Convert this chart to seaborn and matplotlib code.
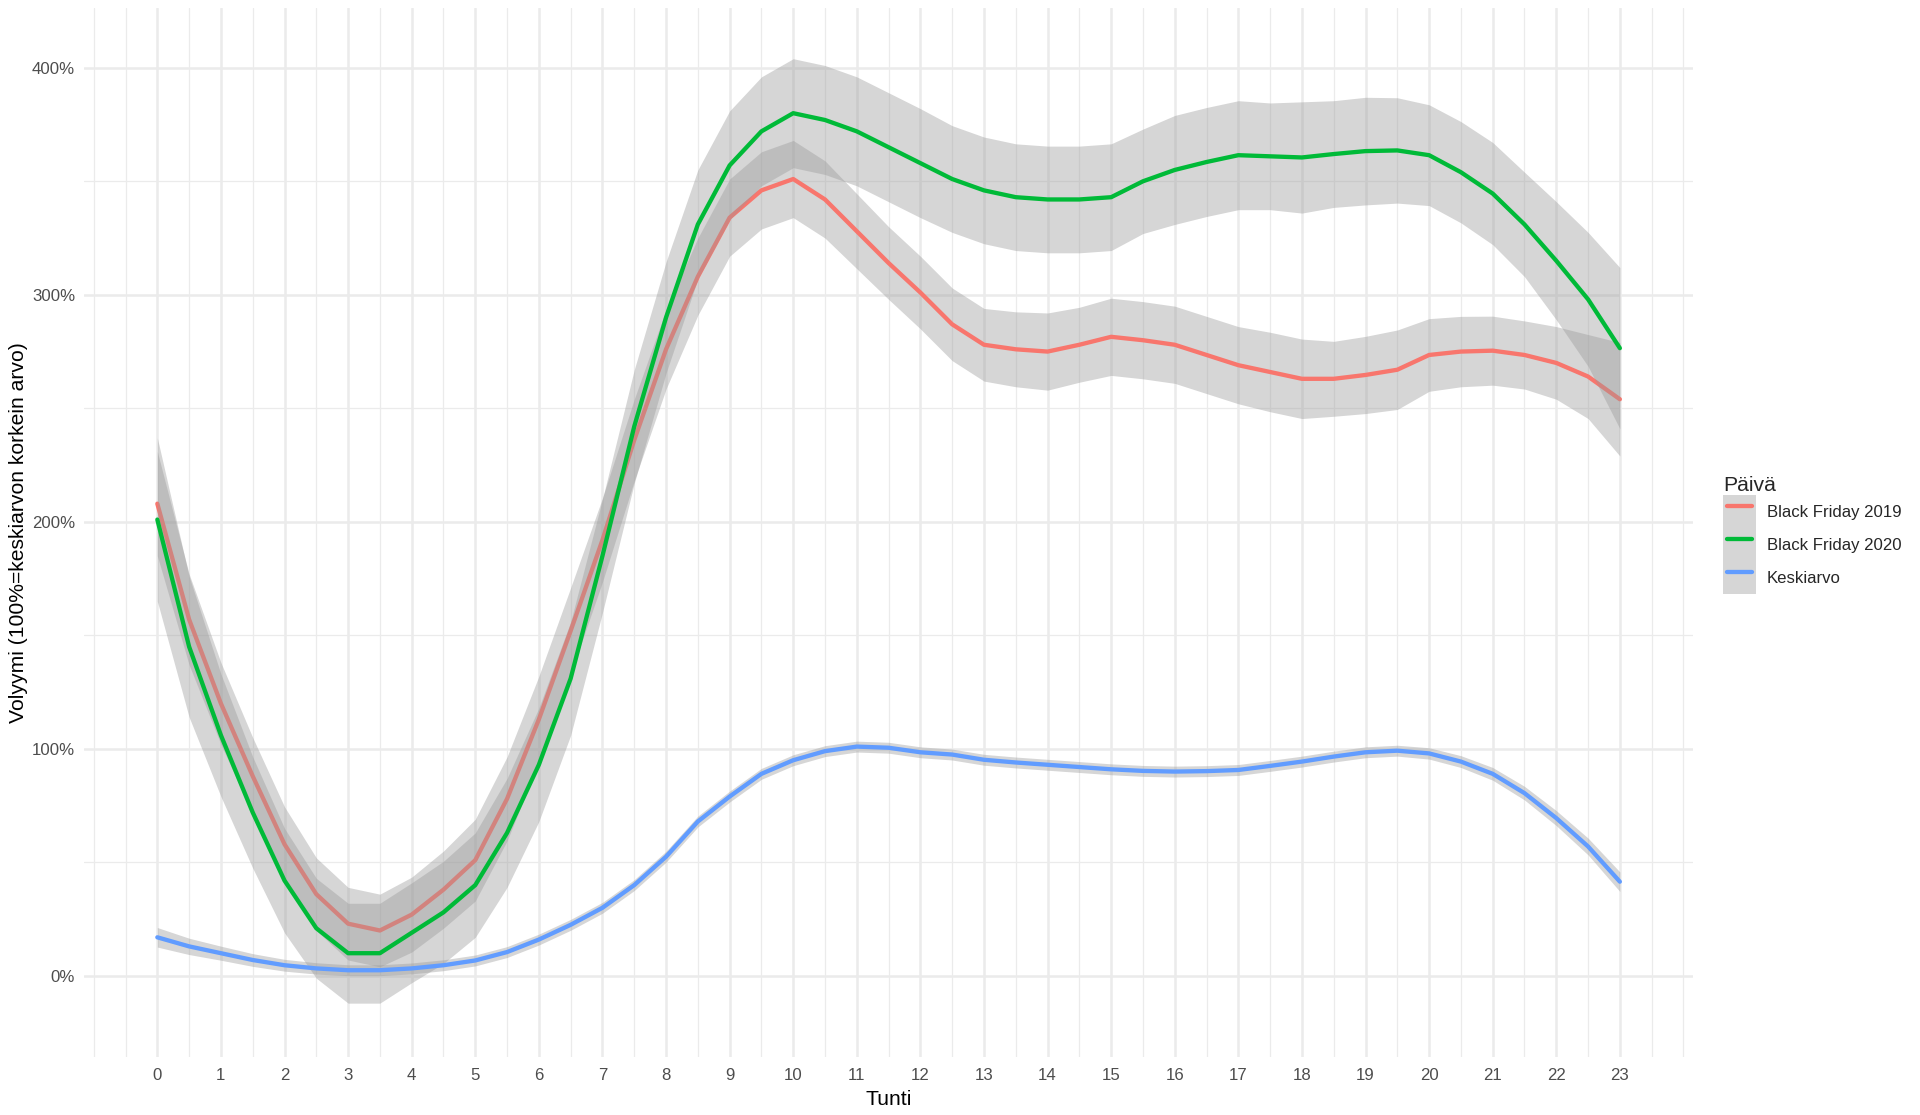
import numpy as np
import pandas as pd
import matplotlib
matplotlib.use("Agg")
import matplotlib.pyplot as plt
import seaborn as sns
from matplotlib.patches import Patch
from matplotlib.lines import Line2D
from matplotlib.legend_handler import HandlerLine2D
from matplotlib.ticker import FuncFormatter

# ---------------- data ----------------
hours = [0, 0.5, 1, 1.5, 2, 2.5, 3, 3.5, 4, 4.5, 5, 5.5, 6, 6.5, 7, 7.5,
         8, 8.5, 9, 9.5, 10, 10.5, 11, 11.5, 12, 12.5, 13, 13.5, 14, 14.5,
         15, 15.5, 16, 16.5, 17, 17.5, 18, 18.5, 19, 19.5, 20, 20.5, 21,
         21.5, 22, 22.5, 23]

series_names = ["Black Friday 2019", "Black Friday 2020", "Keskiarvo"]
series_colors = ["#F8766D", "#00BA38", "#619CFF"]

bf2019 = [208, 157, 120, 88, 58, 36, 23, 20, 27, 38, 51, 78, 113, 152, 192, 236,
          276, 308, 334, 346, 351, 342, 328, 314, 301, 287, 278, 276, 275, 278,
          281.5, 280, 278, 273.5, 269, 266, 263, 263, 264.7, 267, 273.5, 275, 275.4,
          273.5, 270, 264, 254]
bf2019_hw = [23, 20, 18, 17, 16.5, 16, 16, 16, 16.5, 17, 18, 18.5, 19, 19, 18.5, 18,
             17.5, 17, 17, 17, 17, 17, 16.5, 16, 16, 16, 16, 16.5, 17, 16.5,
             17, 17, 17, 17, 17, 17.5, 17.5, 16.5, 17, 17.5, 16, 15.5, 15.2,
             15, 16, 18.5, 25]

bf2020 = [201, 145, 106, 72, 42, 21, 10, 10, 19, 28, 40, 63, 93, 131, 185, 242,
          290, 331, 357, 372, 380, 377, 372, 365, 358, 351, 346, 343, 342, 342,
          343, 350, 355, 358.5, 361.5, 361, 360.5, 362, 363.3, 363.6, 361.5, 354, 344.6,
          331, 315, 298, 276.5]
bf2020_hw = [36, 31, 27, 24.5, 23, 22, 22, 22, 22, 22.5, 23, 24, 25, 25, 25, 25,
             24.5, 24, 24, 24, 24, 24, 24, 24, 24, 23.5, 23.5, 23.5, 23.5, 23.5,
             23.5, 23, 24, 24, 24, 23.5, 24.5, 23.5, 23.7, 23.2, 22.2, 22.3, 22.5,
             23, 26, 29.5, 35.5]

keskiarvo = [17, 13, 10, 7, 4.7, 3.3, 2.5, 2.5, 3.3, 4.7, 6.8, 10.5, 16, 22.5, 30, 40,
             52.5, 68, 79, 89, 95, 99, 101, 100.5, 98.5, 97.5, 95.2, 94, 93, 92,
             91, 90.3, 90, 90.2, 90.7, 92.5, 94.4, 96.6, 98.5, 99.2, 98, 94.4, 89,
             80.5, 69.5, 57, 41.5]
keskiarvo_hw = [4.3, 3.6, 3.1, 2.8, 2.6, 2.5, 2.4, 2.4, 2.4, 2.4, 2.4, 2.4, 2.4, 2.4, 2.4, 2.4,
                2.4, 2.4, 2.4, 2.4, 2.4, 2.4, 2.4, 2.4, 2.4, 2.4, 2.4, 2.4, 2.4, 2.4,
                2.4, 2.4, 2.4, 2.4, 2.4, 2.4, 2.4, 2.4, 2.4, 2.4, 2.5, 2.6, 2.8,
                3.0, 3.3, 3.7, 4.3]

x_ticks = list(range(0, 24))
y_ticks = [0, 100, 200, 300, 400]

values = [bf2019, bf2020, keskiarvo]
halfwidths = [bf2019_hw, bf2020_hw, keskiarvo_hw]

frames = []
for name, v, hw in zip(series_names, values, halfwidths):
    v = np.array(v, dtype=float)
    hw = np.array(hw, dtype=float)
    frames.append(pd.DataFrame({"Tunti": hours, "Volyymi": v,
                                "lo": v - hw, "hi": v + hw, "Päivä": name}))
df = pd.concat(frames, ignore_index=True)

# ---------------- style ----------------
sns.set_theme(style="white")
plt.rcParams['font.family'] = ['Liberation Sans', 'DejaVu Sans']

W, H = 1920, 1115
fig = plt.figure(figsize=(W / 100, H / 100), dpi=100)
left, right, top, bottom = 84.2, 1693, 8.3, 1056.5
ax = fig.add_axes([left / W, 1 - bottom / H, (right - left) / W, (bottom - top) / H])

ribbon_color = "#999999"
z = 2
for name, color in zip(series_names, series_colors):
    d = df[df["Päivä"] == name]
    ax.fill_between(d["Tunti"], d["lo"], d["hi"], color=ribbon_color, alpha=0.4,
                    linewidth=0, zorder=z)
    sns.lineplot(data=d, x="Tunti", y="Volyymi", color=color, linewidth=3.1,
                 ax=ax, legend=False, zorder=z + 1, estimator=None)
    z += 2

ax.set_xlim(-1.15, 24.15)
ax.set_ylim(-35.5, 426.2)

ax.set_xticks(x_ticks)
ax.set_xticks(np.arange(-1, 24.01, 0.5), minor=True)
ax.set_yticks(y_ticks)
ax.set_yticks([50, 150, 250, 350], minor=True)
ax.yaxis.set_major_formatter(FuncFormatter(lambda v, p: f"{int(v)}%"))

ax.grid(which="minor", color="#EBEBEB", linewidth=0.9, zorder=0)
ax.grid(which="major", color="#EBEBEB", linewidth=1.8, zorder=0)
ax.set_axisbelow(True)
for s in ax.spines.values():
    s.set_visible(False)
ax.tick_params(which="both", length=0)
ax.tick_params(axis="x", which="major", pad=8, labelsize=12.1, labelcolor="#4D4D4D")
ax.tick_params(axis="y", which="major", pad=6.5, labelsize=12.1, labelcolor="#4D4D4D")

ax.set_xlabel("Tunti", fontsize=15.2, color="black")
ax.set_ylabel("Volyymi (100%=keskiarvon korkein arvo)", fontsize=15.2, color="black")
ax.xaxis.set_label_coords(0.5, (bottom - 1090) / (bottom - top))
ax.yaxis.set_label_coords((28 - left) / (right - left), 0.5)


class ShortLine(HandlerLine2D):
    """Legend line inset within the key box, as in ggplot."""
    def create_artists(self, legend, orig_handle, xdescent, ydescent,
                       width, height, fontsize, trans):
        inset = 0.12 * width
        artists = super().create_artists(legend, orig_handle, xdescent - inset,
                                         ydescent, width - 2 * inset, height,
                                         fontsize, trans)
        return artists


line_handles = [Line2D([], [], color=c, linewidth=3.1) for c in series_colors]
handles = [(Patch(facecolor=ribbon_color, alpha=0.4, edgecolor="none"), lh)
           for lh in line_handles]
handler_map = {lh: ShortLine() for lh in line_handles}
leg = fig.legend(handles, series_names, title="Päivä", loc="center left",
                 bbox_to_anchor=(1723 / W, 1 - 535 / H), frameon=False,
                 fontsize=12.1, title_fontsize=15.2, labelspacing=0.0,
                 handlelength=1.96, handleheight=2.645, handletextpad=0.65,
                 borderpad=0, borderaxespad=0, alignment="left",
                 handler_map=handler_map)

fig.savefig("out.png", dpi=100, facecolor="white")
